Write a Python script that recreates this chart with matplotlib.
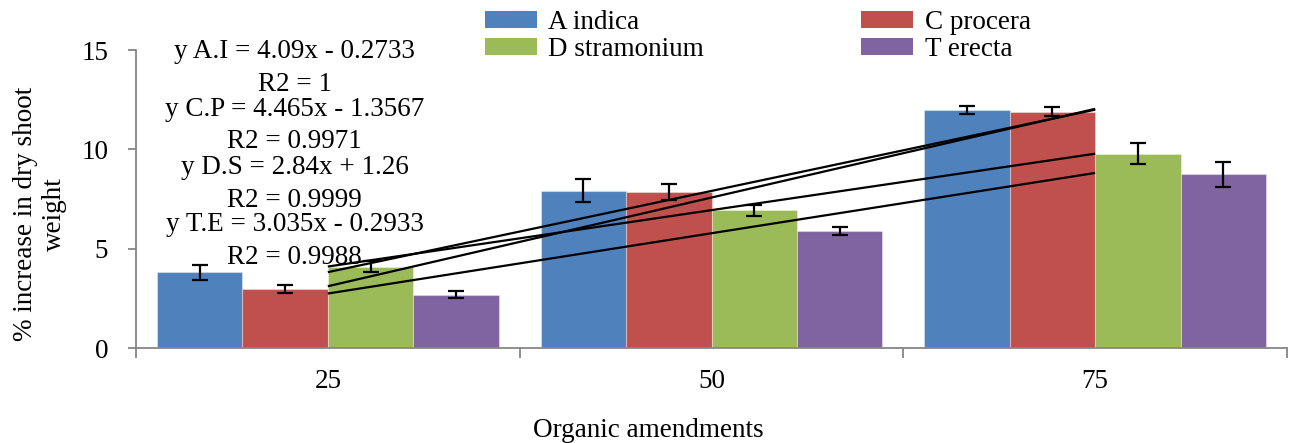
import matplotlib
matplotlib.use("Agg")
import matplotlib.pyplot as plt
from matplotlib.patches import Patch
from matplotlib.ticker import FixedLocator, NullFormatter
import numpy as np

plt.rcParams['font.family'] = ['Liberation Serif', 'DejaVu Serif']

# Organic amendment levels (category labels)
categories = ['25', '50', '75']

# Series names, colours and values (% increase in dry shoot weight)
series_names = ['A indica', 'C procera', 'D stramonium', 'T erecta']
series_colors = ['#4F81BD', '#C0504D', '#9BBB59', '#8064A2']
a_indica = [3.82, 7.91, 12.00]
c_procera = [2.97, 7.85, 11.90]
d_stramonium = [4.10, 6.94, 9.78]
t_erecta = [2.68, 5.90, 8.75]

# Error bar half-lengths
a_indica_err = [0.38, 0.58, 0.20]
c_procera_err = [0.22, 0.38, 0.22]
d_stramonium_err = [0.28, 0.28, 0.53]
t_erecta_err = [0.17, 0.20, 0.63]

# Linear trendlines (x = 1, 2, 3 for the three categories)
trend_tags = ['A.I', 'C.P', 'D.S', 'T.E']
trend_slopes = [4.09, 4.465, 2.84, 3.035]
trend_intercepts = [-0.2733, -1.3567, 1.26, -0.2933]
trend_r2 = ['1', '0.9971', '0.9999', '0.9988']

values = [a_indica, c_procera, d_stramonium, t_erecta]
errors = [a_indica_err, c_procera_err, d_stramonium_err, t_erecta_err]

W, H = 1293, 443
fig = plt.figure(figsize=(W / 100, H / 100), dpi=100)
ax = fig.add_axes([136 / W, 1 - 348 / H, (1287 - 136) / W, (348 - 50) / H])

FS = 19.5
grey = '#868686'
x = np.arange(len(categories))
bw = 0.2226
for k, (vals, errs, col) in enumerate(zip(values, errors, series_colors)):
    pos = x + (k - 1.5) * bw
    ax.bar(pos, vals, width=bw, color=col, edgecolor=(1, 1, 1, 0.35),
           linewidth=0.8, zorder=2)
    ax.errorbar(pos, vals, yerr=errs, fmt='none', ecolor='black',
                elinewidth=1.6, capsize=5.5, capthick=1.6, zorder=3)

# Trendlines across the category centres
xs = np.array([x[0], x[-1]])
for m, b in zip(trend_slopes, trend_intercepts):
    ax.plot(xs, m * (xs + 1) + b, color='black', lw=1.6, zorder=4,
            solid_capstyle='butt')

# Trendline equations
label_y = [0.939, 0.746, 0.551, 0.360]
for tag, m, b, r2, yy in zip(trend_tags, trend_slopes, trend_intercepts,
                             trend_r2, label_y):
    sign = '-' if b < 0 else '+'
    txt = f"y {tag} = {m:g}x {sign} {abs(b):g}\nR2 = {r2}"
    ax.text(0.138, yy, txt, transform=ax.transAxes, ha='center', va='center',
            fontsize=FS, linespacing=1.4, zorder=5)

ax.set_xlim(-0.5, 2.5)
ax.set_ylim(0, 15)
ax.set_yticks([0, 5, 10, 15])
ax.set_xticks(x)
ax.set_xticklabels(categories)
ax.xaxis.set_minor_locator(FixedLocator([-0.5, 0.5, 1.5, 2.5]))
ax.xaxis.set_minor_formatter(NullFormatter())
ax.tick_params(axis='x', which='major', length=0, pad=15, labelsize=FS)
ax.tick_params(axis='x', which='minor', length=7, width=1.3, color=grey)
ax.tick_params(axis='y', length=6, width=1.3, color=grey, pad=14,
               labelsize=FS)

for s in ['top', 'right']:
    ax.spines[s].set_visible(False)
for s in ['left', 'bottom']:
    ax.spines[s].set_color(grey)
    ax.spines[s].set_linewidth(1.3)

ax.set_xlabel('Organic amendments', fontsize=FS)
ax.xaxis.set_label_coords(0.445, -0.235)
ax.set_ylabel('% increase in dry shoot\nweight', fontsize=FS,
              linespacing=1.18, ha='center', va='center')
ax.yaxis.set_label_coords(-0.0834, 0.45)

# Legend: two columns above the plot
order = [0, 2, 1, 3]
handles = [Patch(facecolor=series_colors[i], edgecolor='none') for i in order]
labels = [series_names[i] for i in order]
fig.legend(handles, labels, ncol=2, loc='upper left',
           bbox_to_anchor=(485 / W, 1 - 10 / H), frameon=False, fontsize=FS,
           borderpad=0, borderaxespad=0, handlelength=1.93, handleheight=0.56,
           handletextpad=0.41, columnspacing=5.8, labelspacing=0.07)

fig.savefig('out.png', dpi=100)
